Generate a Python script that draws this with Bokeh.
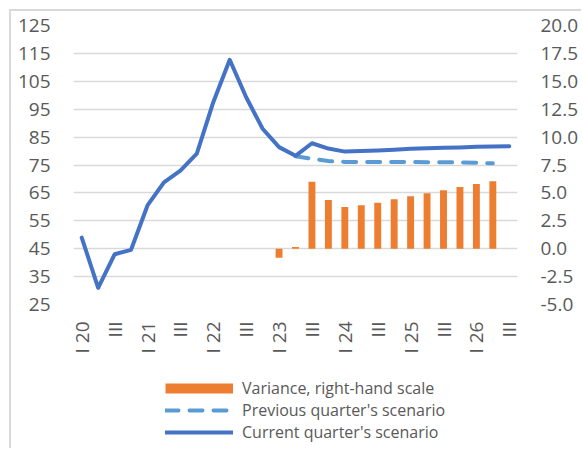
from math import pi
from bokeh.plotting import figure
from bokeh.layouts import column
from bokeh.models import (ColumnDataSource, Range1d, LinearAxis, FixedTicker,
                          NumeralTickFormatter, Legend, LegendItem)
from bokeh.embed import file_html
from bokeh.resources import INLINE

# ---- data ----
quarter_labels = ["I 20", "II", "III", "IV", "I 21", "II", "III", "IV",
                  "I 22", "II", "III", "IV", "I 23", "II", "III", "IV",
                  "I 24", "II", "III", "IV", "I 25", "II", "III", "IV",
                  "I 26", "II", "III"]
current = [49.0, 31.0, 43.0, 44.6, 60.5, 68.8, 73.0, 79.1, 97.5, 112.7,
           99.3, 88.0, 81.4, 78.3, 82.8, 80.9, 79.8, 80.0, 80.2, 80.5,
           80.8, 81.0, 81.2, 81.3, 81.5, 81.6, 81.7]
previous_start = 13
previous = [78.1, 77.2, 76.4, 76.1, 76.1, 76.1, 76.1, 76.1, 76.0, 76.0,
            75.9, 75.8, 75.6]
variance_start = 12
variance = [-0.8, 0.15, 6.0, 4.37, 3.74, 3.89, 4.12, 4.42, 4.69, 4.96,
            5.23, 5.53, 5.8, 6.05]
left_ticks = [25, 35, 45, 55, 65, 75, 85, 95, 105, 115, 125]
right_ticks = [-5.0, -2.5, 0.0, 2.5, 5.0, 7.5, 10.0, 12.5, 15.0, 17.5, 20.0]
series_names = ["Variance, right-hand scale", "Previous quarter's scenario",
                "Current quarter's scenario"]

FONT = "Open Sans"
GREY = "#595959"
TICK_SIZE = "19px"
C_VAR, C_PREV, C_CUR = "#ED7D31", "#5B9BD5", "#4472C4"

cur_src = ColumnDataSource(dict(x=list(range(len(current))), y=current))
prev_src = ColumnDataSource(dict(
    x=list(range(previous_start, previous_start + len(previous))), y=previous))
var_src = ColumnDataSource(dict(
    x=list(range(variance_start, variance_start + len(variance))), top=variance))

p = figure(width=572, height=350, output_backend="svg", toolbar_location=None,
           x_range=Range1d(-0.5, len(quarter_labels) - 0.5),
           y_range=Range1d(left_ticks[0], left_ticks[-1]),
           min_border_left=64, min_border_right=64, min_border_top=16,
           min_border_bottom=55)
p.extra_y_ranges = {"right": Range1d(right_ticks[0], right_ticks[-1])}
p.outline_line_color = None
p.border_fill_alpha = 0
p.background_fill_color = "white"

# axes
for ax in [p.xaxis[0], p.yaxis[0]]:
    ax.axis_line_color = None
    ax.major_tick_line_color = None
    ax.minor_tick_line_color = None
    ax.major_label_text_font = FONT
    ax.major_label_text_font_size = TICK_SIZE
    ax.major_label_text_color = GREY

p.yaxis.ticker = FixedTicker(ticks=left_ticks)
p.yaxis.major_label_standoff = 23
p.yaxis.major_tick_out = 0

xt = list(range(0, len(quarter_labels), 2))
p.xaxis.ticker = FixedTicker(ticks=xt)
p.xaxis.major_label_overrides = {i: quarter_labels[i] for i in xt}
p.xaxis.major_label_orientation = pi / 2
p.xaxis.major_label_standoff = 17
p.xaxis.major_tick_out = 0

ry = LinearAxis(y_range_name="right", ticker=FixedTicker(ticks=right_ticks),
                formatter=NumeralTickFormatter(format="0.0"))
ry.axis_line_color = None
ry.major_tick_line_color = None
ry.minor_tick_line_color = None
ry.major_tick_out = 0
ry.major_label_standoff = 23
ry.major_label_text_font = FONT
ry.major_label_text_font_size = TICK_SIZE
ry.major_label_text_color = GREY
p.add_layout(ry, "right")

p.xgrid.grid_line_color = None
p.ygrid.ticker = FixedTicker(ticks=left_ticks)
p.ygrid.grid_line_color = "#d9d9d9"
p.ygrid.grid_line_width = 1.5

# glyphs
p.vbar(x="x", top="top", bottom=0, width=0.42, source=var_src,
       fill_color=C_VAR, line_color=None, y_range_name="right")
p.line("x", "y", source=prev_src, line_color=C_PREV, line_width=4,
       line_dash="13 11", line_cap="round")
p.line("x", "y", source=cur_src, line_color=C_CUR, line_width=4,
       line_cap="round", line_join="round")

# legend figure (below the chart)
q = figure(width=572, height=89, output_backend="svg", toolbar_location=None,
           x_range=Range1d(0, 1), y_range=Range1d(0, 1),
           min_border_left=0, min_border_right=0, min_border_top=0,
           min_border_bottom=0)
q.axis.visible = False
q.grid.visible = False
q.outline_line_color = None
q.border_fill_alpha = 0
q.background_fill_alpha = 0
nan = [float("nan")]
l_var = q.line(x=nan, y=nan, line_color=C_VAR, line_width=10)
l_prev = q.line(x=nan, y=nan, line_color=C_PREV, line_width=4,
                line_dash="13 11", line_cap="round")
l_cur = q.line(x=nan, y=nan, line_color=C_CUR, line_width=4, line_cap="round")

legend = Legend(items=[
    LegendItem(label=series_names[0], renderers=[l_var]),
    LegendItem(label=series_names[1], renderers=[l_prev]),
    LegendItem(label=series_names[2], renderers=[l_cur]),
], location=(92, 5), orientation="vertical", glyph_width=68, glyph_height=18,
    label_height=18, spacing=0, label_standoff=9, padding=0, margin=0,
    border_line_color=None, background_fill_alpha=0,
    label_text_font=FONT, label_text_font_size="16px", label_text_color=GREY)
q.add_layout(legend, "center")

layout = column(p, q, spacing=0)
layout.margin = (9, 0, 0, 9)
layout.styles = {"box-shadow": "inset 2px 2px 0px 0px #d9d9d9"}

open("out.html", "w").write(file_html(layout, INLINE))
